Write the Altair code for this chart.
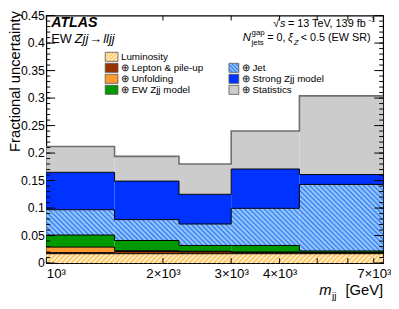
import altair as alt
import pandas as pd
import numpy as np

FONT = "Liberation Sans"

# ---- data (cumulative fractional uncertainty, per mjj bin) ----
edges = [1000, 1500, 2200, 3000, 4500, 7400]
components = ["Luminosity", "Lepton & pile-up", "Unfolding", "EW Zjj model",
              "Jet", "Strong Zjj model", "Statistics"]
lumi = [0.017, 0.017, 0.017, 0.017, 0.017]
lepton = [0.019, 0.021, 0.0205, 0.0195, 0.019]
unfold = [0.029, 0.0225, 0.0215, 0.020, 0.0195]
ewzjj = [0.051, 0.041, 0.032, 0.032, 0.022]
jet = [0.097, 0.079, 0.071, 0.0995, 0.143]
strong = [0.165, 0.149, 0.125, 0.171, 0.161]
stat = [0.212, 0.194, 0.180, 0.240, 0.304]
colors = ["#ffca6a", "#993300", "#ff9933", "#009900", "#8cc4ff", "#0033ff", "#cccccc"]

x_tick_values = [1000, 2000, 3000, 4000, 7000]
x_minor_ticks = [1000, 2000, 3000, 4000, 5000, 6000, 7000]
y_tick_values = [0, 0.05, 0.1, 0.15, 0.2, 0.25, 0.3, 0.35, 0.4, 0.45]
y_minor_ticks = [round(i * 0.01, 2) for i in range(46)]

legend_labels = ["Luminosity", "⊕ Lepton & pile-up", "⊕ Unfolding", "⊕ EW Zjj model",
                 "⊕ Jet", "⊕ Strong Zjj model", "⊕ Statistics"]

series = [lumi, lepton, unfold, ewzjj, jet, strong, stat]

# ---- layout ----
W, H = 343, 252
OX, OY = 47, 13  # page position of plot origin
XMIN, XMAX, YMAX = edges[0], edges[-1], 0.45

xscale = alt.Scale(type="log", domain=[XMIN, XMAX], nice=False)
yscale = alt.Scale(domain=[0, YMAX], nice=False, zero=True)

xaxis = alt.Axis(values=x_tick_values, labelExpr="datum.value == 1000 ? '10³' : (datum.value/1000) + '×10³'",
                 ticks=False, domain=False, grid=False, title=None, labelFontSize=13.5, labelFont=FONT,
                 labelPadding=4, labelFlush=True, labelOverlap=False, labelColor="black")
yaxis = alt.Axis(values=y_tick_values, format=".2~f", ticks=False, domain=False, grid=False,
                 labelFontSize=12.5, labelFont=FONT, labelPadding=2, labelColor="black", labelOverlap=False,
                 title="Fractional uncertainty", titleFont=FONT, titleFontSize=15, titleFontWeight="normal",
                 titleColor="black", titleAngle=270, titleAlign="right", titleBaseline="top",
                 titleX=-OX + 8, titleY=-5)

def X(f): return alt.X(f, scale=xscale, axis=xaxis)
def Y(f): return alt.Y(f, scale=yscale, axis=yaxis)

# band rectangles
rows = []
for k, comp in enumerate(components):
    for i in range(len(edges) - 1):
        lo = 0 if k == 0 else series[k - 1][i]
        rows.append(dict(comp=comp, x0=edges[i], x1=edges[i + 1], lo=lo, hi=series[k][i], order=k))
bands = pd.DataFrame(rows)

# step lines on top of each band
srows = []
for k, comp in enumerate(components):
    for i, e in enumerate(edges):
        srows.append(dict(comp=comp, x=e, y=series[k][min(i, len(series[k]) - 1)]))
steps = pd.DataFrame(srows)

# hatching helpers (pixel-space 45 degree lines mapped back to data space)
lx0, lx1 = np.log10(XMIN), np.log10(XMAX)
def px(m): return W * (np.log10(m) - lx0) / (lx1 - lx0)
def inv_px(p): return 10 ** (lx0 + p / W * (lx1 - lx0))
def py(v): return H * (1 - v / YMAX)
def inv_py(p): return YMAX * (1 - p / H)

def clip_lines(a, b, top, bot, period, direction):
    """45-degree line segments (pixel space) inside the box [a,b]x[top,bot]."""
    segs = []
    if direction == "/":
        cmin, cmax = a + top, b + bot
    else:
        cmin, cmax = top - b, bot - a
    c = np.floor(cmin / period) * period
    while c <= cmax:
        if direction == "/":
            xs, xe = max(a, c - bot), min(b, c - top)
            if xe - xs > 0.3:
                segs.append((xs, c - xs, xe, c - xe))
        else:
            xs, xe = max(a, top - c), min(b, bot - c)
            if xe - xs > 0.3:
                segs.append((xs, xs + c, xe, xe + c))
        c += period
    return segs

def hatch(k, period, direction):
    out = []
    for i in range(len(edges) - 1):
        lo = 0 if k == 0 else series[k - 1][i]
        hi = series[k][i]
        for (xs, ys, xe, ye) in clip_lines(px(edges[i]), px(edges[i + 1]), py(hi), py(lo), period, direction):
            out.append(dict(xa=inv_px(xs), ya=inv_py(ys), xb=inv_px(xe), yb=inv_py(ye)))
    return pd.DataFrame(out)

rects = alt.Chart(bands).mark_rect(strokeWidth=0).encode(
    x=X("x0:Q"), x2="x1:Q", y=Y("lo:Q"), y2="hi:Q",
    color=alt.Color("comp:N", scale=alt.Scale(domain=components, range=colors), legend=None),
)

LUMI_HATCH, JET_HATCH = "#fff4e0", "#3a78ee"

def hatch_layer(df, color, width):
    return alt.Chart(df).mark_rule(color=color, strokeWidth=width).encode(
        x=X("xa:Q"), y=Y("ya:Q"), x2="xb:Q", y2="yb:Q")

lumi_hatch = hatch_layer(hatch(0, 5, "/"), LUMI_HATCH, 1.3)
jet_hatch = hatch_layer(hatch(4, 5, "\\"), JET_HATCH, 1.2)

step_black = alt.Chart(steps[steps.comp != "Statistics"]).mark_line(
    interpolate="step-after", color="black", strokeWidth=1).encode(x=X("x:Q"), y=Y("y:Q"), detail="comp:N")
step_stat = alt.Chart(steps[steps.comp == "Statistics"]).mark_line(
    interpolate="step-after", color="#6e6e6e", strokeWidth=1.6).encode(x=X("x:Q"), y=Y("y:Q"))

# ticks (inside, mirrored)
ymaj = pd.DataFrame({"v": y_tick_values})
ymin = pd.DataFrame({"v": y_minor_ticks})
xmin = pd.DataFrame({"m": x_minor_ticks})
tick_layers = [
    alt.Chart(ymaj).mark_rule(color="black").encode(y=Y("v:Q"), x=alt.value(0), x2=alt.value(9)),
    alt.Chart(ymaj).mark_rule(color="black").encode(y=Y("v:Q"), x=alt.value(W), x2=alt.value(W - 9)),
    alt.Chart(ymin).mark_rule(color="black").encode(y=Y("v:Q"), x=alt.value(0), x2=alt.value(4)),
    alt.Chart(ymin).mark_rule(color="black").encode(y=Y("v:Q"), x=alt.value(W), x2=alt.value(W - 4)),
    alt.Chart(xmin).mark_rule(color="black").encode(x=X("m:Q"), y=alt.value(H), y2=alt.value(H - 5)),
    alt.Chart(xmin).mark_rule(color="black").encode(x=X("m:Q"), y=alt.value(0), y2=alt.value(5)),
]

# legend
lcol = [0, 0, 0, 0, 1, 1, 1]
lrow = [0, 1, 2, 3, 1, 2, 3]
leg = pd.DataFrame({"label": legend_labels, "color": colors,
                    "sx0": [60 if c == 0 else 186 for c in lcol],
                    "sx1": [73 if c == 0 else 196 for c in lcol],
                    "tx": [76 if c == 0 else 199 for c in lcol],
                    "cy": [42 + r * 11.2 for r in lrow]})
leg["sy0"] = leg["cy"] - 4.6
leg["sy1"] = leg["cy"] + 4.6
leg_fill = alt.Chart(leg).mark_rect().encode(
    x=alt.X("sx0:Q", scale=None), x2="sx1:Q", y=alt.Y("sy0:Q", scale=None), y2="sy1:Q",
    color=alt.Color("color:N", scale=None))
hrows = []
for idx, direction, hcol in [(0, "/", LUMI_HATCH), (4, "\\", JET_HATCH)]:
    r = leg.iloc[idx]
    for (xs, ys, xe, ye) in clip_lines(r.sx0, r.sx1, r.sy0, r.sy1, 4, direction):
        hrows.append(dict(xa=xs, ya=ys, xb=xe, yb=ye, hc=hcol))
leg_hatch = alt.Chart(pd.DataFrame(hrows)).mark_rule(strokeWidth=1.1).encode(
    x=alt.X("xa:Q", scale=None), y=alt.Y("ya:Q", scale=None), x2="xb:Q", y2="yb:Q",
    color=alt.Color("hc:N", scale=None))
leg_border = alt.Chart(leg).mark_rect(fillOpacity=0, stroke="#555555", strokeWidth=0.8).encode(
    x=alt.X("sx0:Q", scale=None), x2="sx1:Q", y=alt.Y("sy0:Q", scale=None), y2="sy1:Q")
leg_tx = alt.Chart(leg).mark_text(align="left", baseline="middle", fontSize=10, font=FONT, color="black").encode(
    x=alt.X("tx:Q", scale=None), y=alt.Y("cy:Q", scale=None), text="label:N")

def txt(s, x, y, size, style="normal", weight="normal", align="left"):
    return alt.Chart(pd.DataFrame({"t": [s]})).mark_text(
        align=align, baseline="alphabetic", fontSize=size, fontStyle=style, fontWeight=weight,
        font=FONT, color="black").encode(x=alt.value(x - OX), y=alt.value(y - OY), text="t:N")

texts = [
    txt("ATLAS", 52, 25, 14.5, "italic", "bold"),
    txt("EW", 52, 41, 13),
    txt("Zjj", 76, 41, 13, "italic"),
    txt("→", 91, 41, 13),
    txt("lljj", 105, 41, 13, "italic"),
    txt("√", 278, 25, 11),
    txt("s", 285, 25, 11, "italic"),
    txt("= 13 TeV, 139 fb", 293, 25, 11),
    txt("-1", 375, 20, 8),
    txt("N", 247, 39, 11.5, "italic"),
    txt("gap", 256, 33, 8),
    txt("jets", 256, 43, 8),
    txt("= 0,", 272, 39, 11),
    txt("ξ", 293, 39, 11, "italic"),
    txt("Z", 299, 42.5, 8, "italic"),
    txt("< 0.5 (EW SR)", 306, 39, 11),
    txt("m", 325, 298, 15, "italic"),
    txt("jj", 338, 302, 10),
    txt("[GeV]", 390, 298, 15, align="right"),
]

chart = alt.layer(rects, lumi_hatch, jet_hatch, step_black, step_stat, *tick_layers,
                  leg_fill, leg_hatch, leg_border, leg_tx, *texts).properties(
    width=W, height=H,
    padding={"left": OX - 8, "top": OY - 8, "right": 8, "bottom": 40},
    autosize=alt.AutoSizeParams(type="none"),
).configure_view(stroke="black", strokeWidth=1.2)

chart.save("out.html", embed_options={"renderer": "svg", "actions": False})
